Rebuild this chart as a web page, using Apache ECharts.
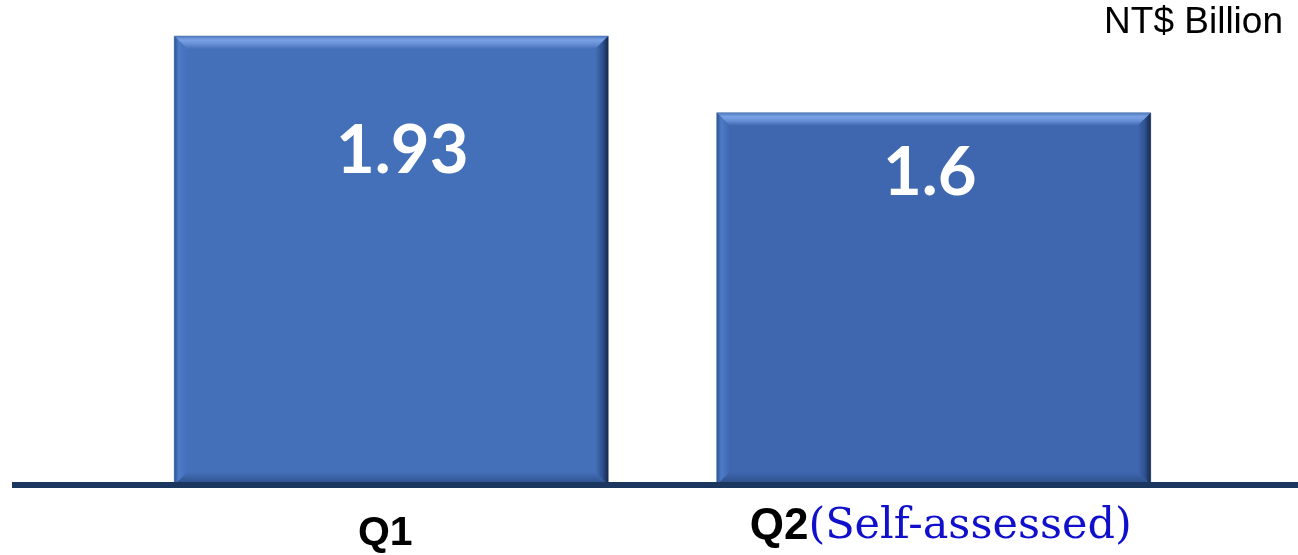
<!DOCTYPE html>
<html>
<head>
<meta charset="utf-8">
<script src="https://cdn.jsdelivr.net/npm/echarts@6/dist/echarts.min.js"></script>
<style>
  html, body { margin: 0; padding: 0; background: #ffffff; }
  #chart { width: 1298px; height: 555px; }
</style>
</head>
<body>
<div id="chart"></div>
<script>
// Quarterly figures, NT$ billion
const quarters = ['Q1', 'Q2'];
const amounts = [1.93, 1.6];
const unitLabel = 'NT$ Billion';
const q2Note = '(Self-assessed)';

// Value label placement relative to the bar top centre: [dx, dy]
const labelOffset = [[11, 115], [-4, 61]];
const barFill = ['#4470ba', '#3f67b0'];
const BEVEL = 13;

const chart = echarts.init(document.getElementById('chart'), null, { renderer: 'canvas' });

function lg(x2, y2, stops) {
  return new echarts.graphic.LinearGradient(0, 0, x2, y2,
    stops.map(s => ({ offset: s[0], color: s[1] })));
}

function renderBar(params, api) {
  const idx = params.dataIndex;
  const cat = api.value(0);
  const val = api.value(1);
  const topPt = api.coord([cat, val]);
  const basePt = api.coord([cat, 0]);
  const w = api.size([1, 0])[0] * 0.8;
  const l = topPt[0] - w / 2, r = topPt[0] + w / 2;
  const t = topPt[1], b = basePt[1];
  const e = BEVEL;
  const fill = barFill[idx];
  return {
    type: 'group',
    children: [
      { type: 'rect', shape: { x: l, y: t, width: w, height: b - t },
        style: { fill: fill, stroke: '#9fb0cc', lineWidth: 1 } },
      // top bevel (light)
      { type: 'polygon', shape: { points: [[l, t], [r, t], [r - e, t + e], [l + e, t + e]] },
        style: { fill: lg(0, 1, [[0, '#4f78bd'], [0.3, '#7aa3e6'], [0.6, '#6890d6'], [1, fill]]) } },
      // left bevel
      { type: 'polygon', shape: { points: [[l, t], [l + e, t + e], [l + e, b - e], [l, b]] },
        style: { fill: lg(1, 0, [[0, '#2d5596'], [0.35, '#4d7bc8'], [1, fill]]) } },
      // right bevel (shadowed)
      { type: 'polygon', shape: { points: [[r, t], [r, b], [r - e, b - e], [r - e, t + e]] },
        style: { fill: lg(1, 0, [[0, fill], [0.55, '#2e5190'], [1, '#15284a']]) } },
      // bottom bevel (shadowed)
      { type: 'polygon', shape: { points: [[l, b], [r, b], [r - e, b - e], [l + e, b - e]] },
        style: { fill: lg(0, 1, [[0, fill], [1, '#2c4d86']]) } },
      // value label
      { type: 'text', z2: 10,
        style: { text: String(amounts[idx]),
          x: topPt[0] + labelOffset[idx][0], y: t + labelOffset[idx][1],
          align: 'center', verticalAlign: 'middle',
          font: 'bold 67px Lato', fill: '#ffffff' } }
    ]
  };
}

const option = {
  animation: false,
  grid: { left: 120, right: 93, top: 36, bottom: 70, containLabel: false },
  xAxis: {
    type: 'category',
    data: quarters,
    axisLine: { show: false },
    axisTick: { show: false },
    axisLabel: {
      margin: 20,
      formatter: function (v) {
        return v === 'Q2' ? '{q2|' + v + '}{note|' + q2Note + '}' : '{q1|' + v + '}';
      },
      rich: {
        q1: { fontFamily: 'Liberation Sans', fontWeight: 'bold', fontSize: 41, color: '#000', padding: [8, 12, 0, 0] },
        q2: { fontFamily: 'Liberation Sans', fontWeight: 'bold', fontSize: 44, color: '#000', padding: [0, 0, 0, 14] },
        note: { fontFamily: 'DejaVu Serif', fontSize: 43, color: '#1010cc' }
      }
    }
  },
  yAxis: { type: 'value', min: 0, max: 1.93, show: false },
  series: [{
    type: 'custom',
    renderItem: renderBar,
    data: quarters.map((q, i) => [i, amounts[i]])
  }],
  graphic: [
    { type: 'rect', z: 100, shape: { x: 12, y: 482, width: 1286, height: 6 }, style: { fill: '#1b365f' } },
    { type: 'text', z: 100, right: 15, top: 4,
      style: { text: unitLabel, font: '37px "Liberation Sans"', fill: '#000' } }
  ]
};

chart.setOption(option);
</script>
</body>
</html>
